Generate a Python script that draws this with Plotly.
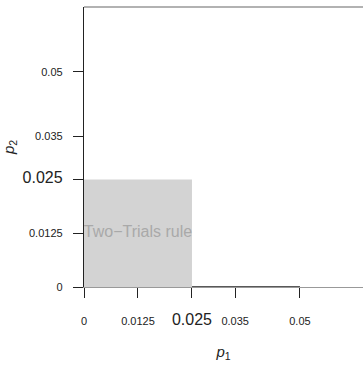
import plotly.graph_objects as go

# data
x_ticks = [0, 0.0125, 0.025, 0.035, 0.05]
x_tick_labels = ["0", "0.0125", "0.025", "0.035", "0.05"]
y_ticks = [0, 0.0125, 0.025, 0.035, 0.05]
y_tick_labels = ["0", "0.0125", "0.025", "0.035", "0.05"]
alpha = 0.025
region_label = "Two\u2212Trials rule"
x_range = [0, 0.0646]
y_range = [0, 0.0651]

FONT = "Liberation Sans, Arial, Helvetica, sans-serif"


def fmt(labels, vals):
    out = []
    for lab, v in zip(labels, vals):
        if abs(v - alpha) < 1e-12:
            out.append('<span style="font-size:16px">%s</span>' % lab)
        else:
            out.append(lab)
    return out


fig = go.Figure()

# shaded region for two-trials rule
fig.add_trace(go.Scatter(
    x=[0, alpha, alpha, 0, 0], y=[0, 0, alpha, alpha, 0],
    fill="toself", fillcolor="#D3D3D3", line=dict(width=0),
    mode="lines", hoverinfo="skip", showlegend=False,
))
fig.add_trace(go.Scatter(
    x=[alpha / 2], y=[alpha / 2], mode="text", text=[region_label],
    textfont=dict(size=16, color="#A9A9A9", family=FONT),
    hoverinfo="skip", showlegend=False, cliponaxis=False,
))

# dark axis segment from alpha to last tick
fig.add_trace(go.Scatter(
    x=[x_ticks[2], x_ticks[-1]], y=[0, 0], mode="lines",
    line=dict(color="#222222", width=1.3), hoverinfo="skip",
    showlegend=False, cliponaxis=False,
))

fig.update_layout(
    width=363, height=365,
    margin=dict(l=84, r=0, t=7, b=78),
    plot_bgcolor="white", paper_bgcolor="white",
    font=dict(family=FONT, size=11, color="#222222"),
    xaxis=dict(
        range=x_range, tickvals=x_ticks, ticktext=fmt(x_tick_labels, x_ticks),
        ticks="outside", ticklen=10, tickcolor="#222222", tickwidth=1,
        showline=True, linecolor="#999999", linewidth=1.3,
        showgrid=False, zeroline=False, ticklabelstandoff=14,
        title=dict(text="<i>p</i><sub>1</sub>", font=dict(size=15), standoff=19),
        fixedrange=True,
    ),
    yaxis=dict(
        range=y_range, tickvals=y_ticks, ticktext=fmt(y_tick_labels, y_ticks),
        ticks="outside", ticklen=10, tickcolor="#222222", tickwidth=1,
        showline=True, linecolor="#222222", linewidth=1.3,
        showgrid=False, zeroline=False, ticklabelstandoff=8,
        title=dict(text="<i>p</i><sub>2</sub>", font=dict(size=15), standoff=8),
        fixedrange=True,
    ),
    shapes=[dict(type="line", xref="paper", yref="paper", x0=0, x1=1, y0=1, y1=1,
                 line=dict(color="#999999", width=1.3))],
)

fig.write_html("out.html")
